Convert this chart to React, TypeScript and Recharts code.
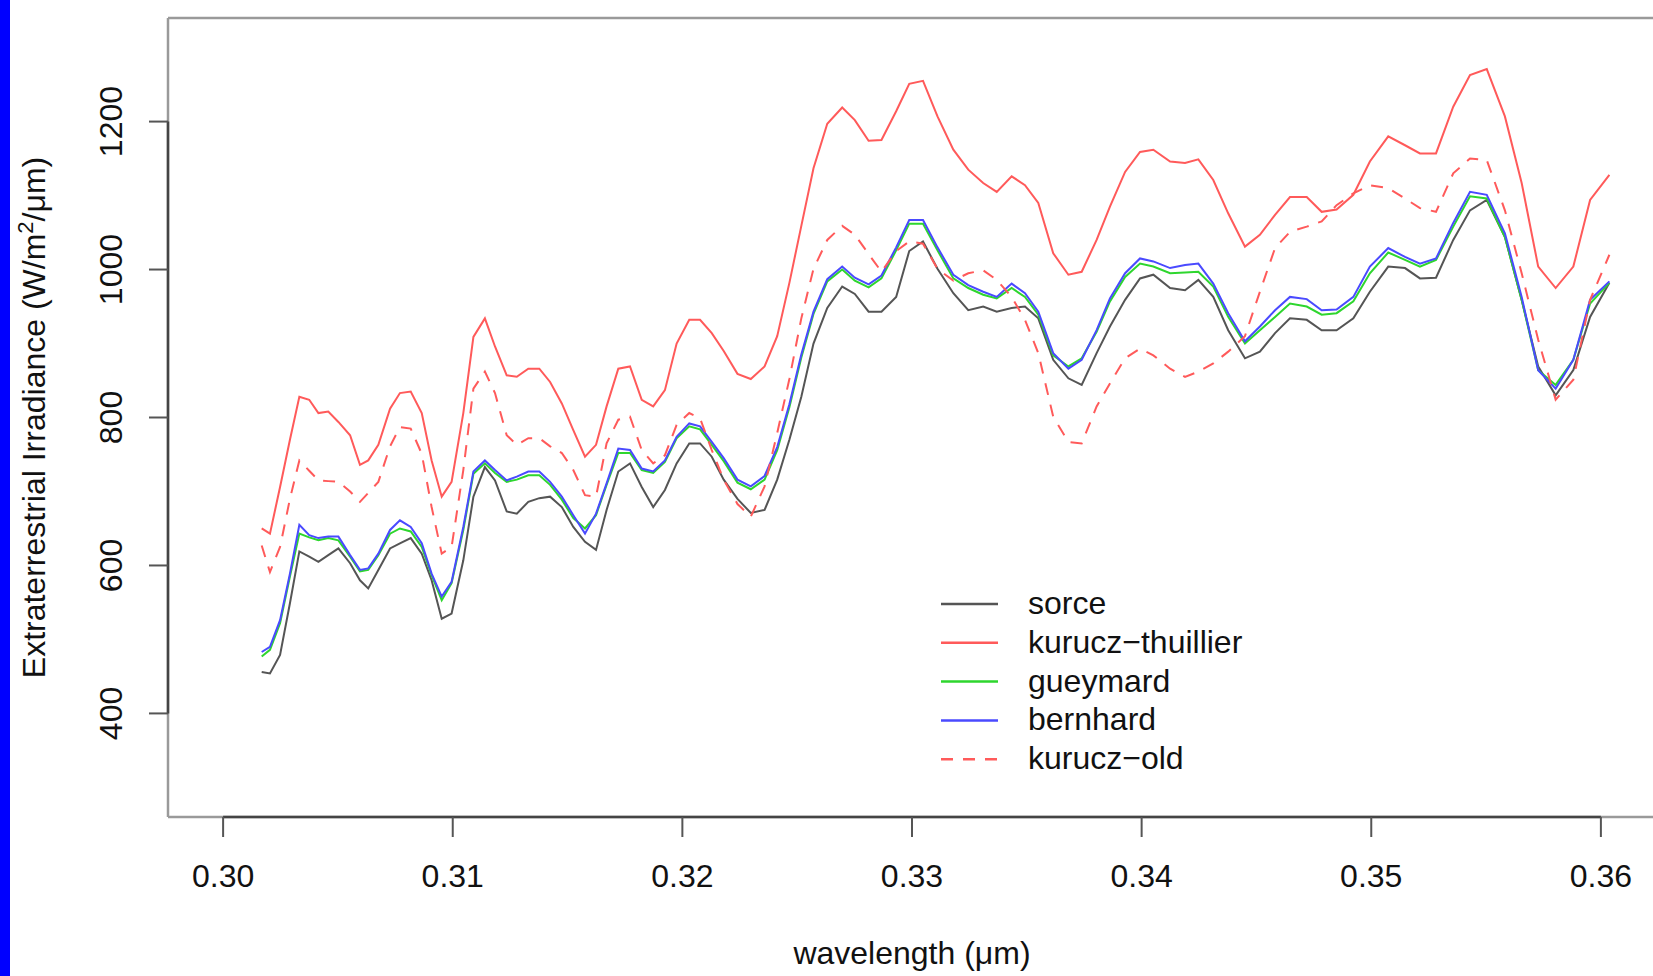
import React from 'react';
import { LineChart, Line, XAxis, YAxis, Legend, ReferenceLine } from 'recharts';

// wavelength grid (µm) shared by all series
const wavelength = [
  0.30168, 0.30204, 0.30248, 0.30291, 0.30332, 0.30375, 0.30415, 0.30458, 0.30502, 0.30553,
  0.30596, 0.30632, 0.30676, 0.30727, 0.3077, 0.30817, 0.30865, 0.30908, 0.30952, 0.30995,
  0.31046, 0.3109, 0.3114, 0.31184, 0.31235, 0.31279, 0.31329, 0.31377, 0.31424, 0.31475,
  0.31525, 0.31576, 0.31624, 0.3167, 0.31721, 0.31772, 0.31823, 0.31873, 0.31924, 0.31975,
  0.3203, 0.32077, 0.32128, 0.3218, 0.3224, 0.32298, 0.32358, 0.32413, 0.32466, 0.32518,
  0.32571, 0.32631, 0.32696, 0.32751, 0.32811, 0.32867, 0.32931, 0.32988, 0.33048, 0.33111,
  0.3318, 0.33245, 0.3331, 0.33369, 0.33434, 0.33492, 0.3355, 0.33615, 0.33681, 0.33739,
  0.33804, 0.33862, 0.33928, 0.33993, 0.34051, 0.34124, 0.34189, 0.34247, 0.34312, 0.34377,
  0.3445, 0.34515, 0.34581, 0.34646, 0.34719, 0.34784, 0.34849, 0.34922, 0.34994, 0.35074,
  0.35147, 0.35212, 0.35282, 0.35357, 0.3543, 0.35503, 0.35582, 0.35655, 0.35727, 0.35803,
  0.3588, 0.35953, 0.36037,
];

const sorce = [
  456, 454, 479, 549, 619, 612, 605, 614, 623, 603, 580, 569, 594, 623, 630, 637, 616, 580, 528, 535, 607, 693, 733,
  715, 673, 670, 686, 691, 693, 679, 652, 632, 621, 675, 727, 738, 706, 679, 702, 738, 765, 765, 747,
  716, 690, 671, 675, 716, 770, 828, 900, 948, 977, 967, 943, 943, 963, 1025, 1038, 1001,
  968, 945, 950, 943, 948, 950, 934, 878, 853, 844, 887, 923, 959, 988, 993, 975,
  972, 986, 963, 918, 880, 889, 914, 934, 932, 918, 918, 934, 970, 1004,
  1002, 988, 989, 1040, 1080, 1094, 1044, 959, 869, 830, 864, 936, 982,
];

const kuruczThuillier = [
  650, 643, 706, 770, 828, 824, 806, 808, 794, 776, 736, 742, 763, 812, 833, 835, 806, 742, 693, 713, 806, 909, 934,
  896, 857, 855, 866, 866, 848, 819, 783, 747, 763, 815, 866, 869, 824, 815, 837, 900, 932, 932, 914,
  890, 859, 852, 869, 910, 982, 1059, 1137, 1197, 1219, 1202, 1174, 1175, 1214, 1251, 1255, 1207,
  1162, 1135, 1117, 1105, 1126, 1114, 1090, 1022, 993, 997, 1040, 1085, 1132, 1159, 1162, 1146,
  1144, 1149, 1121, 1076, 1031, 1047, 1074, 1098, 1098, 1078, 1081, 1101, 1146, 1180,
  1168, 1157, 1157, 1220, 1263, 1271, 1207, 1117, 1004, 975, 1004, 1094, 1128,
];

const gueymard = [
  477, 486, 522, 585, 643, 638, 634, 637, 634, 612, 592, 594, 614, 643, 650, 646, 625, 587, 553, 576, 648, 724, 738,
  725, 713, 716, 722, 722, 709, 689, 664, 650, 668, 709, 752, 752, 729, 725, 740, 772, 788, 784, 763,
  741, 712, 703, 716, 756, 814, 881, 940, 984, 1000, 985, 976, 988, 1026, 1062, 1062, 1026,
  988, 975, 966, 961, 975, 963, 939, 884, 869, 880, 916, 957, 990, 1008, 1004, 995,
  996, 997, 977, 936, 900, 918, 936, 954, 950, 939, 941, 957, 995, 1023,
  1013, 1004, 1013, 1058, 1099, 1096, 1044, 959, 864, 844, 878, 954, 982,
];

const bernhard = [
  483, 490, 526, 589, 655, 641, 637, 639, 639, 614, 594, 596, 616, 648, 661, 652, 630, 589, 558, 578, 652, 727, 742,
  729, 715, 720, 727, 727, 713, 693, 668, 643, 670, 711, 758, 756, 731, 727, 742, 774, 792, 788, 767,
  745, 716, 707, 721, 760, 818, 885, 943, 987, 1004, 989, 980, 992, 1030, 1067, 1067, 1030,
  993, 979, 970, 963, 981, 968, 943, 887, 866, 878, 918, 961, 995, 1015, 1011, 1002,
  1006, 1008, 981, 941, 903, 923, 945, 963, 960, 945, 946, 963, 1004, 1029,
  1017, 1008, 1015, 1063, 1105, 1101, 1049, 963, 864, 839, 878, 959, 984,
];

const kuruczOld = [
  627, 591, 625, 690, 742, 728, 715, 714, 713, 700, 686, 698, 713, 761, 787, 785, 751, 679, 616, 625, 729, 839, 862,
  833, 776, 763, 772, 772, 761, 752, 729, 695, 693, 765, 797, 801, 756, 738, 749, 790, 806, 799, 756,
  716, 683, 666, 707, 779, 852, 934, 1001, 1040, 1059, 1047, 1021, 997, 1025, 1038, 1035, 1001,
  985, 995, 999, 986, 963, 932, 887, 801, 767, 765, 815, 846, 880, 893, 884, 866,
  855, 862, 873, 889, 910, 970, 1029, 1051, 1058, 1065, 1087, 1103, 1114, 1110,
  1096, 1083, 1078, 1130, 1150, 1148, 1080, 995, 905, 824, 851, 959, 1020,
];

const xTicks = [0.3, 0.31, 0.32, 0.33, 0.34, 0.35, 0.36];
const yTicks = [400, 600, 800, 1000, 1200];
const xDomain = [0.2976, 0.3624];
const yDomain = [260, 1340];

const series = [
  { key: 'sorce', name: 'sorce', color: '#555555', dash: undefined },
  { key: 'kt', name: 'kurucz\u2212thuillier', color: '#ff5a5a', dash: undefined },
  { key: 'gueymard', name: 'gueymard', color: '#2ed62e', dash: undefined },
  { key: 'bernhard', name: 'bernhard', color: '#4a4aff', dash: undefined },
  { key: 'ko', name: 'kurucz\u2212old', color: '#ff5a5a', dash: '12 10' },
];

const data = wavelength.map((w, i) => ({
  w,
  sorce: sorce[i],
  kt: kuruczThuillier[i],
  gueymard: gueymard[i],
  bernhard: bernhard[i],
  ko: kuruczOld[i],
}));

const FONT = '"Liberation Sans", Arial, Helvetica, sans-serif';

const renderXTick = (props: any) => {
  const { x, payload } = props;
  return (
    <text x={x} y={887} textAnchor='middle' fontFamily={FONT} fontSize={32} fill='#111'>
      {Number(payload.value).toFixed(2)}
    </text>
  );
};

const renderYTick = (props: any) => {
  const { y, payload } = props;
  return (
    <text
      x={122}
      y={y}
      transform={`rotate(-90, 122, ${y})`}
      textAnchor='middle'
      fontFamily={FONT}
      fontSize={32}
      fill='#111'
    >
      {payload.value}
    </text>
  );
};

const renderXLabel = (props: any) => {
  const vb = props.viewBox || { x: 168, y: 817, width: 1488 };
  const cx = vb.x + vb.width / 2;
  return (
    <text x={cx} y={964} textAnchor='middle' fontFamily={FONT} fontSize={32} fill='#111'>
      wavelength (μm)
    </text>
  );
};

const renderYLabel = () => {
  const cy = 417.5;
  return (
    <text
      x={45}
      y={cy}
      transform={`rotate(-90, 45, ${cy})`}
      textAnchor='middle'
      fontFamily={FONT}
      fontSize={32}
      fill='#111'
    >
      Extraterrestrial Irradiance (W/m
      <tspan dy={-12} fontSize={22}>2</tspan>
      <tspan dy={12}>/μm)</tspan>
    </text>
  );
};

const renderLegend = () => (
  <svg width={340} height={210}>
    {series.map((s, i) => {
      const y = 24 + i * 38.8;
      return (
        <g key={s.key}>
          <line
            x1={11}
            x2={68}
            y1={y}
            y2={y}
            stroke={s.color}
            strokeWidth={2.5}
            strokeDasharray={s.dash}
          />
          <text x={98} y={y + 10} fontFamily={FONT} fontSize={32} fill='#111'>
            {s.name}
          </text>
        </g>
      );
    })}
  </svg>
);

export default function App() {
  return (
    <div
      style={{
        position: 'absolute',
        left: 0,
        top: 0,
        width: 1653,
        height: 976,
        overflow: 'hidden',
        background: '#fff',
      }}
    >
      <div style={{ position: 'absolute', left: 0, top: 0, width: 10, height: 976, background: '#0000ff' }} />
      <div style={{ position: 'absolute', left: 0, top: 0 }}>
        <LineChart
          width={1700}
          height={976}
          data={data}
          margin={{ top: 18, right: 44, bottom: 0, left: 0 }}
        >
          <XAxis
            dataKey='w'
            type='number'
            domain={xDomain}
            ticks={xTicks}
            allowDataOverflow
            height={159}
            axisLine={false}
            tickSize={20}
            tickLine={{ stroke: '#555', strokeWidth: 2 }}
            tick={renderXTick}
            label={renderXLabel}
          />
          <YAxis
            type='number'
            domain={yDomain}
            ticks={yTicks}
            allowDataOverflow
            width={168}
            axisLine={false}
            tickSize={19}
            tickLine={{ stroke: '#555', strokeWidth: 2 }}
            tick={renderYTick}
            label={renderYLabel}
          />
          {/* plot box */}
          <ReferenceLine y={1340} stroke='#9a9a9a' strokeWidth={2.5} />
          <ReferenceLine y={260} stroke='#9a9a9a' strokeWidth={2.5} />
          <ReferenceLine x={0.2976} stroke='#9a9a9a' strokeWidth={2.5} />
          {/* axis lines over tick range */}
          <ReferenceLine
            segment={[
              { x: 0.3, y: 260 },
              { x: 0.36, y: 260 },
            ]}
            stroke='#444'
            strokeWidth={2.5}
          />
          <ReferenceLine
            segment={[
              { x: 0.2976, y: 400 },
              { x: 0.2976, y: 1200 },
            ]}
            stroke='#444'
            strokeWidth={2.5}
          />
          {series.map((s) => (
            <Line
              key={s.key}
              dataKey={s.key}
              name={s.name}
              type='linear'
              stroke={s.color}
              strokeWidth={2}
              strokeDasharray={s.dash}
              dot={false}
              activeDot={false}
              isAnimationActive={false}
            />
          ))}
          <Legend
            layout='vertical'
            align='center'
            verticalAlign='middle'
            content={renderLegend}
            wrapperStyle={{ position: 'absolute', left: 930, top: 580, width: 340, height: 210 }}
          />
        </LineChart>
      </div>
    </div>
  );
}
